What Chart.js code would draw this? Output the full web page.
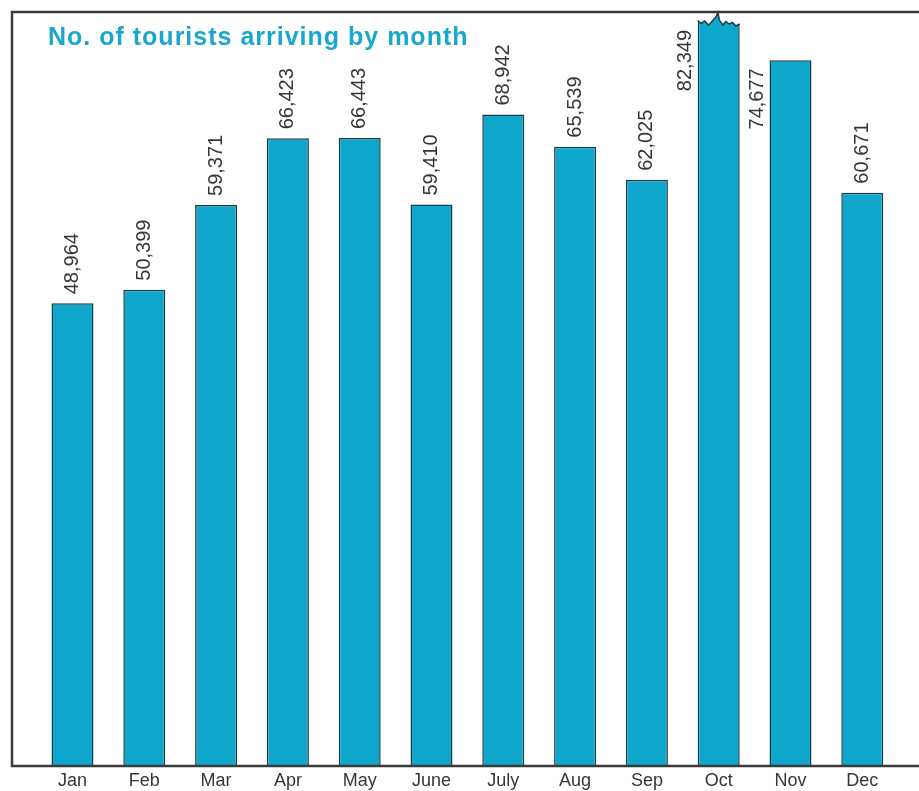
<!DOCTYPE html>
<html lang="en">

<head>
  <meta charset="UTF-8">
  <title>Tourist arrivals by month</title>
  <script src="https://cdn.jsdelivr.net/npm/chart.js"></script>
  <style>
    html, body {
      margin: 0;
      padding: 0;
      background: #ffffff;
    }
    canvas {
      display: block;
    }
  </style>
</head>

<body>
  <canvas id="arrivals-chart" width="919" height="791"></canvas>

  <script>
    // Monthly arrivals
    const months = ['Jan', 'Feb', 'Mar', 'Apr', 'May', 'June', 'July', 'Aug', 'Sep', 'Oct', 'Nov', 'Dec'];
    const arrivals = [48964, 50399, 59371, 66423, 66443, 59410, 68942, 65539, 62025, 82349, 74677, 60671];
    const axisMax = 80000;

    const chartTitle = 'No. of tourists arriving by month';
    const barColor = '#0fa7cb';
    const edgeColor = '#1f3c46';
    const inkColor = '#363636';
    const fontFamily = '"Liberation Sans", Arial, sans-serif';

    // Torn top used on bars that run past the top of the scale (x fraction, depth below chart top)
    const tearShape = [
      [0, 10.5], [0.08, 13.5], [0.16, 11], [0.26, 15], [0.34, 11.5], [0.44, 6.5],
      [0.48, 2.5], [0.52, 10.5], [0.6, 15], [0.67, 11.5], [0.75, 14], [0.83, 12.5],
      [0.91, 16], [1, 14]
    ];

    // Frame round the plot: left, top and bottom rules
    const framePlugin = {
      id: 'frame',
      afterDraw(chart) {
        const ctx = chart.ctx;
        const bottom = chart.chartArea.bottom;
        ctx.save();
        ctx.strokeStyle = '#3a3a3a';
        ctx.lineWidth = 2.5;
        ctx.beginPath();
        ctx.moveTo(chart.width, 12);
        ctx.lineTo(12, 12);
        ctx.lineTo(12, bottom);
        ctx.lineTo(chart.width, bottom);
        ctx.stroke();
        ctx.restore();
      }
    };

    // Break the top of any bar taller than the scale
    const tearPlugin = {
      id: 'tear',
      afterDatasetsDraw(chart) {
        const ctx = chart.ctx;
        const top = chart.chartArea.top;
        const meta = chart.getDatasetMeta(0);
        ctx.save();
        meta.data.forEach((bar, i) => {
          if (arrivals[i] <= axisMax) return;
          const left = bar.x - bar.width / 2;
          const pts = tearShape.map(([fx, dy]) => [left + fx * bar.width, top + dy]);

          // white out everything above the tear
          ctx.fillStyle = '#ffffff';
          ctx.beginPath();
          ctx.moveTo(left - 2, top - 2);
          ctx.lineTo(left - 2, pts[0][1]);
          pts.forEach(p => ctx.lineTo(p[0], p[1]));
          ctx.lineTo(left + bar.width + 2, pts[pts.length - 1][1]);
          ctx.lineTo(left + bar.width + 2, top - 2);
          ctx.closePath();
          ctx.fill();

          ctx.strokeStyle = edgeColor;
          ctx.lineWidth = 1.5;
          ctx.lineJoin = 'miter';
          ctx.beginPath();
          pts.forEach((p, k) => k ? ctx.lineTo(p[0], p[1]) : ctx.moveTo(p[0], p[1]));
          ctx.stroke();
        });
        ctx.restore();
      }
    };

    // Value written upright over each bar, or beside it when there is no room above
    const valueLabelPlugin = {
      id: 'valueLabels',
      afterDatasetsDraw(chart) {
        const ctx = chart.ctx;
        const area = chart.chartArea;
        const meta = chart.getDatasetMeta(0);
        ctx.save();
        ctx.font = '20px ' + fontFamily;
        ctx.fillStyle = inkColor;
        ctx.textBaseline = 'middle';
        meta.data.forEach((bar, i) => {
          const text = arrivals[i].toLocaleString('en-US');
          const w = ctx.measureText(text).width;
          const visibleTop = arrivals[i] > axisMax ? area.top + 12 : bar.y;
          ctx.save();
          if (visibleTop - 9 - w > area.top + 15) {
            ctx.translate(bar.x, visibleTop - 9);
            ctx.rotate(-Math.PI / 2);
            ctx.textAlign = 'left';
          } else {
            ctx.translate(bar.x - bar.width / 2 - 12, visibleTop + 8);
            ctx.rotate(-Math.PI / 2);
            ctx.textAlign = 'right';
          }
          ctx.fillText(text, 0, 0);
          ctx.restore();
        });
        ctx.restore();
      }
    };

    // Heading inside the frame
    const headingPlugin = {
      id: 'heading',
      afterDraw(chart) {
        const ctx = chart.ctx;
        ctx.save();
        ctx.font = 'bold 25px ' + fontFamily;
        ctx.fillStyle = '#1aa7cc';
        ctx.textAlign = 'left';
        ctx.textBaseline = 'alphabetic';
        ctx.letterSpacing = '1px';
        ctx.fillText(chartTitle, 48, 45);
        ctx.restore();
      }
    };

    new Chart(document.getElementById('arrivals-chart'), {
      type: 'bar',
      data: {
        labels: months,
        datasets: [{
          data: arrivals,
          backgroundColor: barColor,
          borderColor: edgeColor,
          borderWidth: 1.5,
          borderSkipped: 'start',
          barPercentage: 0.585,
          categoryPercentage: 1
        }]
      },
      options: {
        responsive: false,
        animation: false,
        devicePixelRatio: 1,
        layout: {
          padding: { left: 36.6, right: 20.8, top: 10, bottom: 0 }
        },
        plugins: {
          legend: { display: false },
          tooltip: { enabled: false },
          title: { display: false }
        },
        scales: {
          x: {
            grid: { display: false, drawTicks: false },
            border: { display: false },
            ticks: {
              color: inkColor,
              font: { family: fontFamily, size: 18 },
              padding: 4,
              maxRotation: 0,
              autoSkip: false
            },
            afterFit: scale => { scale.height = 25; }
          },
          y: {
            display: false,
            min: 0,
            max: axisMax
          }
        }
      },
      plugins: [tearPlugin, valueLabelPlugin, framePlugin, headingPlugin]
    });
  </script>
</body>

</html>
